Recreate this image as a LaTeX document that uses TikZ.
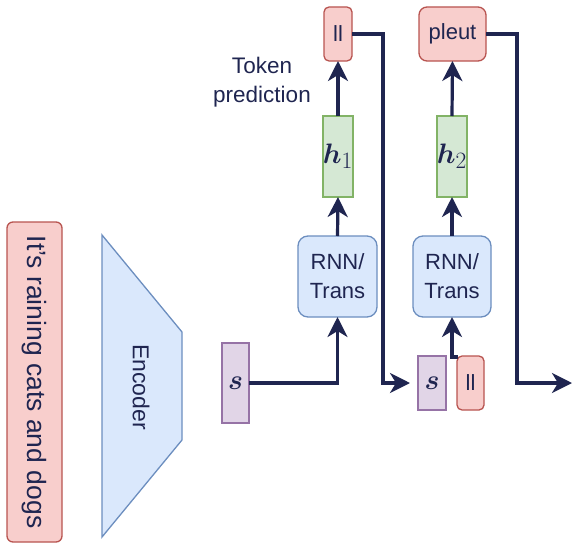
\documentclass[tikz,border=0pt]{standalone}
\usepackage{amsmath}
\usepackage{graphicx}
\usepackage{fontspec}
\setmainfont{Liberation Sans}
\usetikzlibrary{arrows.meta,calc}
\definecolor{navy}{HTML}{1F2550}
\definecolor{redfill}{HTML}{F8CECC}
\definecolor{reddraw}{HTML}{B85450}
\definecolor{bluefill}{HTML}{DAE8FC}
\definecolor{bluedraw}{HTML}{6C8EBF}
\definecolor{greenfill}{HTML}{D5E8D4}
\definecolor{greendraw}{HTML}{82B366}
\definecolor{purpfill}{HTML}{E1D5E7}
\definecolor{purpdraw}{HTML}{9673A6}
\newcommand{\bigmath}[1]{\scalebox{1.13}{$#1$}}
\tikzset{
  base/.style={inner sep=0pt, outer sep=0pt, line width=1.3pt, text=navy, font=\fontsize{22}{29}\selectfont, align=center},
  redbox/.style={base, fill=redfill, draw=reddraw, rounded corners=6pt},
  bluebox/.style={base, fill=bluefill, draw=bluedraw, rounded corners=10pt},
  greenbox/.style={base, fill=greenfill, draw=greendraw},
  purpbox/.style={base, fill=purpfill, draw=purpdraw},
  conn/.style={draw=navy, line width=3.2pt, -{Stealth[length=20pt,width=20pt,inset=6pt]}},
  mathtxt/.style={font=\fontsize{24.88}{30}\selectfont}
}
\begin{document}
\begin{tikzpicture}[x=1pt,y=-1pt]
\useasboundingbox (0,0) rectangle (572,543);
% sentence
\node[redbox, minimum width=55pt, minimum height=320pt] (sent) at (34.5,382) {};
\node[base, rotate=-90, font=\fontsize{26.5}{30}\selectfont] (senttext) at (sent.center) {It's raining cats and dogs};
% encoder
\draw[fill=bluefill, draw=bluedraw, line width=1.3pt] (102,235) -- (182,332) -- (182,440) -- (102,537) -- cycle;
\node[base, rotate=-90, font=\fontsize{23}{28}\selectfont] (enc) at (141,387) {Encoder};
% first step
\node[purpbox, minimum width=27pt, minimum height=80pt, mathtxt] (s1) at (235.5,383) {\bigmath{\boldsymbol{s}}};
\node[bluebox, minimum width=79pt, minimum height=81pt] (rnn1) at (337.5,276.5) {RNN/\\Trans};
\node[greenbox, minimum width=28pt, minimum height=81pt, mathtxt] (h1) at (338,156.5) {\bigmath{\boldsymbol{h}_1}};
\node[redbox, rounded corners=5pt, minimum width=28pt, minimum height=54pt] (il1) at (338,34) {ll};
\node[base, font=\fontsize{22.5}{29}\selectfont] (tok) at (262,82) {Token\\prediction};
% second step
\node[bluebox, minimum width=78pt, minimum height=81pt] (rnn2) at (452,276.5) {RNN/\\Trans};
\node[greenbox, minimum width=28pt, minimum height=81pt, mathtxt] (h2) at (452,156.5) {\bigmath{\boldsymbol{h}_2}};
\node[redbox, rounded corners=8pt, minimum width=67pt, minimum height=54pt] (pleut) at (452.5,34) {pleut};
\node[purpbox, minimum width=28pt, minimum height=54pt, mathtxt] (s2) at (432,383) {\bigmath{\boldsymbol{s}}};
\node[redbox, rounded corners=5pt, minimum width=27pt, minimum height=54pt] (il2) at (470.5,383) {ll};
% helper coordinates
\coordinate (c1) at (383,34);
\coordinate (c2) at (383,383);
\coordinate (c3) at (517,34);
\coordinate (c4) at (517,383);
\coordinate (outend) at (572,383);
\coordinate (il2start) at ($(il2.north west)+(1,1)$);
% connectors
\draw[conn] (s1.east) -| (rnn1.south);
\draw[conn] (rnn1.north) -- (h1.south);
\draw[conn] (h1.north) -- (il1.south);
\draw[conn] (rnn2.north) -- (h2.south);
\draw[conn] (h2.north) -- (pleut.south);
\draw[conn, shorten >=8pt] (il1.east) -- (c1) -- (c2) -- (s2.west);
\draw[conn] (il2start) -| (rnn2.south);
\draw[conn] (pleut.east) -- (c3) -- (c4) -- (outend);
\end{tikzpicture}
\end{document}
